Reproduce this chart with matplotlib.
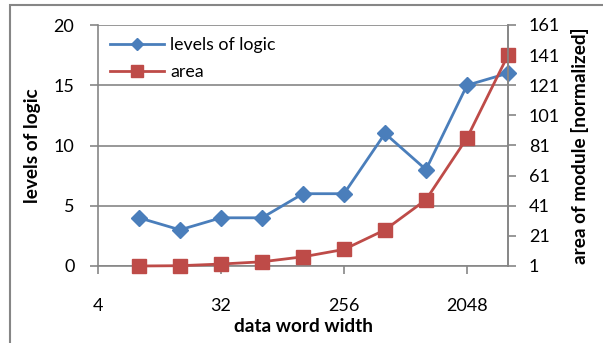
import matplotlib.pyplot as plt
from matplotlib.patches import Rectangle

plt.rcParams['font.family'] = ['Lato', 'DejaVu Sans']

# data
word_width = [8, 16, 32, 64, 128, 256, 512, 1024, 2048, 4096]
levels = [4, 3, 4, 4, 6, 6, 11, 8, 15, 16]
area = [1, 1.2, 2.3, 3.8, 7.1, 12, 25, 45, 86, 141]

x_ticks = [4, 32, 256, 2048]
left_ticks = [0, 5, 10, 15, 20]
right_ticks = [1, 21, 41, 61, 81, 101, 121, 141, 161]

blue = '#4A7EBB'
red = '#BE4B48'
grey = '#868686'

W, H = 603, 343
fig = plt.figure(figsize=(W / 100, H / 100), dpi=100)
ax = fig.add_axes([98 / W, 1 - 266 / H, 410 / W, 241 / H])

ax.set_xscale('log', base=2)
ax.set_xlim(4, 4096)
ax.set_ylim(0, 20)
ax.set_xticks(x_ticks)
ax.set_xticklabels([str(t) for t in x_ticks])
ax.minorticks_off()
ax.set_yticks(left_ticks)
ax.grid(axis='y', color=grey, lw=1.2)
ax.set_axisbelow(True)
ax.spines['top'].set_visible(False)
for s in ['left', 'bottom', 'right']:
    ax.spines[s].set_color(grey)
    ax.spines[s].set_linewidth(1.2)
ax.tick_params(axis='both', colors=grey, labelcolor='black', labelsize=13,
               length=6, width=1.2, direction='out')
ax.tick_params(axis='x', pad=17)
ax.tick_params(axis='y', pad=11)

l1, = ax.plot(word_width, levels, color=blue, lw=2, marker='D', ms=8,
              label='levels of logic', clip_on=False)

ax2 = ax.twinx()
ax2.set_ylim(1, 161)
ax2.set_yticks(right_ticks)
for s in ['top', 'left', 'bottom']:
    ax2.spines[s].set_visible(False)
ax2.spines['right'].set_color(grey)
ax2.spines['right'].set_linewidth(1.2)
ax2.tick_params(axis='y', colors=grey, labelcolor='black', labelsize=13,
                length=6, width=1.2, direction='out', pad=9)
l2, = ax2.plot(word_width, area, color=red, lw=2, marker='s', ms=10,
               label='area', clip_on=False)

ax.set_ylabel('levels of logic', fontsize=13.7, fontweight='bold', labelpad=9)
ax2.set_ylabel('area of module [normalized]', fontsize=13.7, fontweight='bold', labelpad=8)
ax.set_xlabel('data word width', fontsize=13.7, fontweight='bold', labelpad=3)

ax2.legend(handles=[l1, l2], loc='upper left', frameon=False, fontsize=12.8,
           handlelength=3.0, handletextpad=0.35, borderaxespad=0.3,
           labelspacing=0.62, markerscale=0.8)

fig.patches.append(Rectangle((10 / W, -0.1), 1.2, 1 - 5 / H + 0.1,
                             transform=fig.transFigure, fill=False,
                             edgecolor=grey, lw=1.5))

fig.savefig('out.png', dpi=100)
